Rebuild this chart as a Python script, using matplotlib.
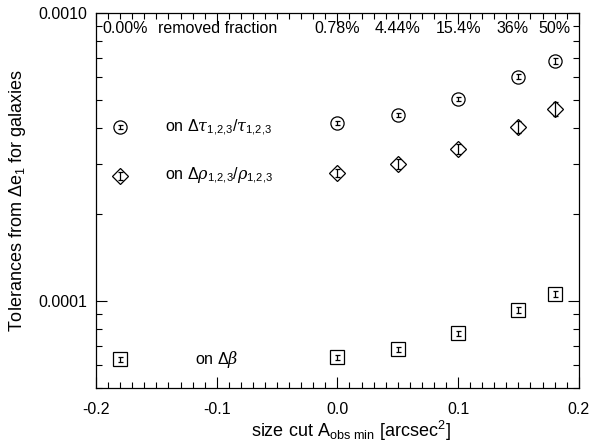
import matplotlib
matplotlib.use("Agg")
import matplotlib.pyplot as plt
from matplotlib.ticker import FixedLocator, NullFormatter, MultipleLocator, LogLocator
import matplotlib.transforms as mtrans

plt.rcParams['font.family'] = ['Liberation Sans', 'DejaVu Sans']
plt.rcParams['mathtext.fontset'] = 'custom'
plt.rcParams['mathtext.rm'] = 'Liberation Sans'
plt.rcParams['mathtext.it'] = 'DejaVu Serif:italic'

x = [-0.18, 0.0, 0.05, 0.10, 0.15, 0.18]
tau = [4.02e-4, 4.15e-4, 4.42e-4, 5.03e-4, 6.0e-4, 6.8e-4]
tau_err = [6e-6, 6e-6, 7e-6, 8e-6, 1.2e-5, 1.5e-5]
rho = [2.72e-4, 2.78e-4, 2.99e-4, 3.37e-4, 4.02e-4, 4.64e-4]
rho_err = [9e-6, 9e-6, 1.2e-5, 1.4e-5, 1.9e-5, 2.5e-5]
beta = [6.29e-5, 6.39e-5, 6.81e-5, 7.74e-5, 9.3e-5, 1.06e-4]
beta_err = [1.1e-6, 1.1e-6, 1.3e-6, 1.6e-6, 2.2e-6, 2.6e-6]
frac_labels = ['0.78%', '4.44%', '15.4%', '36%', '50%']
frac_x = [0.0, 0.05, 0.10, 0.145, 0.18]

fig = plt.figure(figsize=(5.93, 4.43), dpi=100)
ax = fig.add_axes([0.162, 0.124, 0.814, 0.847])
ax.set_yscale('log')
ax.set_xlim(-0.2, 0.2)
ax.set_ylim(5e-5, 1e-3)

for vals, errs, mk, ms in [(tau, tau_err, 'o', 9.5), (rho, rho_err, 'D', 8.5), (beta, beta_err, 's', 10)]:
    ax.errorbar(x, vals, yerr=errs, fmt='none', ecolor='black', elinewidth=0.9, capsize=1.8, capthick=0.9)
    ax.plot(x, vals, linestyle='none', marker=mk, ms=ms, mfc='none', mec='black', mew=0.9)

fs = 11.5
ax.text(-0.143, 4.0e-4, r'on $\Delta\tau_{1{,}2{,}3}/\tau_{1{,}2{,}3}$', fontsize=fs, va='center', ha='left')
ax.text(-0.143, 2.72e-4, r'on $\Delta\rho_{1{,}2{,}3}/\rho_{1{,}2{,}3}$', fontsize=fs, va='center', ha='left')
ax.text(-0.118, 6.29e-5, r'on $\Delta\beta$', fontsize=fs, va='center', ha='left')

trans = mtrans.blended_transform_factory(ax.transData, ax.transAxes)
ax.text(-0.176, 0.978, '0.00%', fontsize=fs, ha='center', va='top', transform=trans)
ax.text(-0.149, 0.978, 'removed fraction', fontsize=fs, ha='left', va='top', transform=trans)
for fx, fl in zip(frac_x, frac_labels):
    ax.text(fx, 0.978, fl, fontsize=fs, ha='center', va='top', transform=trans)

ax.xaxis.set_minor_locator(MultipleLocator(0.01))
ax.set_xticks([-0.2, -0.1, 0.0, 0.1, 0.2])
ax.set_xticklabels(['-0.2', '-0.1', '0.0', '0.1', '0.2'])
ax.yaxis.set_major_locator(FixedLocator([1e-4, 1e-3]))
ax.yaxis.set_minor_locator(LogLocator(base=10, subs=range(2, 10)))
ax.yaxis.set_minor_formatter(NullFormatter())
ax.set_yticks([1e-4, 1e-3])
ax.set_yticklabels(['0.0001', '0.0010'])

ax.tick_params(which='both', direction='in', top=True, right=True, labelsize=fs)
ax.tick_params(axis='x', which='both', pad=10)
ax.tick_params(axis='y', which='both', pad=6)
ax.tick_params(which='major', length=8, width=0.8)
ax.tick_params(which='minor', length=4, width=0.8)
for s in ax.spines.values():
    s.set_linewidth(0.9)

ax.set_xlabel(r'size cut A$_{\rm obs\ min}$ [arcsec$^2$]', fontsize=13)
ax.xaxis.set_label_coords(0.528, -0.082)
ax.set_ylabel(r'Tolerances from $\Delta$e$_1$ for galaxies', fontsize=13, labelpad=8)

fig.savefig('out.png', dpi=100)
